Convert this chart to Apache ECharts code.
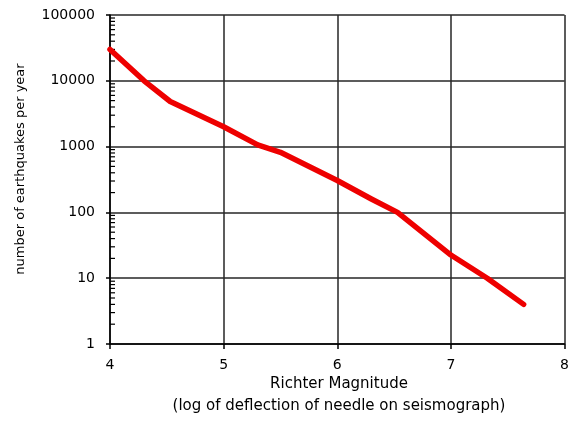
<!DOCTYPE html>
<html>
<head>
<meta charset="utf-8">
<script src="https://cdn.jsdelivr.net/npm/echarts@6/dist/echarts.min.js"></script>
<style>
html,body{margin:0;padding:0;background:#fff;}
#chart{width:572px;height:426px;}
</style>
</head>
<body>
<div id="chart"></div>
<script>
// Richter magnitude (x) vs number of earthquakes per year (y)
const magnitudes = [4.0, 4.3, 4.53, 5.0, 5.3, 5.5, 6.0, 6.3, 6.53, 7.0, 7.32, 7.64];
const quakesPerYear = [30000, 10000, 4850, 2000, 1060, 820, 305, 160, 100, 22.5, 10, 4];
const xTicks = [4, 5, 6, 7, 8];
const yDecades = [1, 10, 100, 1000, 10000, 100000];
const xNameLine1 = 'Richter Magnitude';
const xNameLine2 = '(log of deflection of needle on seismograph)';
const yName = 'number of earthquakes per year';

// minor log ticks 2..9 within each decade
const minorTickValues = [];
for (let d = 0; d < yDecades.length - 1; d++) {
  for (let m = 2; m <= 9; m++) minorTickValues.push(yDecades[d] * m);
}

const chart = echarts.init(document.getElementById('chart'), null, {renderer: 'canvas'});
const font = '"DejaVu Sans", sans-serif';
const gridColor = '#262626';

chart.setOption({
  animation: false,
  grid: {left: 110, right: 5, top: 15, bottom: 82, containLabel: false},
  xAxis: {
    type: 'value', min: xTicks[0], max: xTicks[xTicks.length - 1], interval: 1,
    axisLine: {show: true, lineStyle: {color: '#000', width: 1.5}},
    axisTick: {show: true, inside: false, length: 5, lineStyle: {color: '#000', width: 1.5}},
    axisLabel: {color: '#000', fontFamily: font, fontSize: 14, margin: 14},
    splitLine: {show: true, lineStyle: {color: gridColor, width: 1.5}}
  },
  yAxis: {
    type: 'log', logBase: 10, min: yDecades[0], max: yDecades[yDecades.length - 1],
    axisLine: {show: true, lineStyle: {color: '#000', width: 1.5}},
    axisTick: {show: true, inside: false, length: 4, lineStyle: {color: '#000', width: 1.5}},
    axisLabel: {color: '#000', fontFamily: font, fontSize: 14, margin: 15,
      formatter: v => String(Math.round(v))},
    splitLine: {show: true, lineStyle: {color: gridColor, width: 1.5}}
  },
  graphic: [
    {
      type: 'text', x: 21, y: 169, rotation: Math.PI / 2,
      style: {text: yName, fill: '#000', font: '13px ' + font, textAlign: 'center', textVerticalAlign: 'middle'}
    },
    {
      type: 'text', x: 339, y: 384,
      style: {text: xNameLine1, fill: '#000', font: '15px ' + font, textAlign: 'center', textVerticalAlign: 'middle'}
    },
    {
      type: 'text', x: 339, y: 406,
      style: {text: xNameLine2, fill: '#000', font: '15px ' + font, textAlign: 'center', textVerticalAlign: 'middle'}
    }
  ],
  series: [
    {
      type: 'custom',
      silent: true,
      clip: false,
      z: 5,
      data: minorTickValues.map(v => [xTicks[0], v]),
      renderItem: function (params, api) {
        const p = api.coord([api.value(0), api.value(1)]);
        return {
          type: 'line',
          shape: {x1: p[0], y1: p[1], x2: p[0] + 5, y2: p[1]},
          style: {stroke: '#000', lineWidth: 1.2}
        };
      }
    },
    {
      type: 'line',
      data: magnitudes.map((m, i) => [m, quakesPerYear[i]]),
      showSymbol: false,
      smooth: false,
      z: 10,
      lineStyle: {color: '#ee0000', width: 5.5, cap: 'round', join: 'round'}
    }
  ]
});
</script>
</body>
</html>
